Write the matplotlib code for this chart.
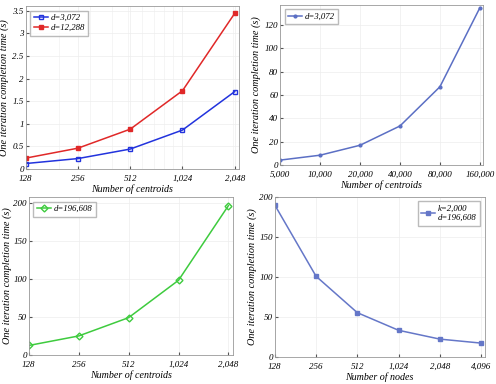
import numpy as np
import matplotlib
matplotlib.use("Agg")
import matplotlib.pyplot as plt
from matplotlib.ticker import FixedLocator, NullFormatter, LogLocator

plt.rcParams['font.family'] = ['Liberation Serif', 'DejaVu Serif']
plt.rcParams['font.style'] = 'italic'
plt.rcParams['font.size'] = 7

# top-left: time vs number of centroids, two dimensions
centroids_a = [128, 256, 512, 1024, 2048]
labels_a = ['128', '256', '512', '1,024', '2,048']
time_d3072 = [0.12, 0.23, 0.44, 0.86, 1.71]
time_d12288 = [0.24, 0.46, 0.88, 1.73, 3.44]

# top-right: large number of centroids
centroids_b = [5000, 10000, 20000, 40000, 80000, 160000]
labels_b = ['5,000', '10,000', '20,000', '40,000', '80,000', '160,000']
time_b = [4.3, 8.5, 17.0, 33.5, 67.0, 134.5]

# bottom-left: d=196,608
time_c = [12.5, 25.0, 49.0, 98.0, 196.0]

# bottom-right: number of nodes
nodes = [128, 256, 512, 1024, 2048, 4096]
labels_nodes = ['128', '256', '512', '1,024', '2,048', '4,096']
time_nodes = [190.0, 101.0, 55.5, 33.5, 22.5, 17.5]

ylab = 'One iteration completion time (s)'

fig = plt.figure(figsize=(4.96, 3.84), dpi=100)
ax1 = fig.add_axes([0.052, 0.56, 0.430, 0.424])
ax2 = fig.add_axes([0.565, 0.570, 0.408, 0.417])
ax3 = fig.add_axes([0.058, 0.0755, 0.411, 0.411])
ax4 = fig.add_axes([0.554, 0.070, 0.423, 0.417])


def style(ax, xs, labels, xmax, ylab_x):
    ax.set_xscale('log')
    ax.set_xlim(xs[0], xmax)
    ax.xaxis.set_major_locator(FixedLocator(xs))
    ax.set_xticklabels(labels)
    ax.xaxis.set_minor_formatter(NullFormatter())
    ax.tick_params(which='both', direction='in', length=2.5, color='#555555',
                   labelsize=6.5)
    ax.tick_params(axis='x', pad=4)
    ax.tick_params(axis='y', pad=1.5)
    ax.tick_params(which='minor', length=0)
    for s in ax.spines.values():
        s.set_color('#999999')
        s.set_linewidth(0.6)
    ax.set_ylabel(ylab, fontsize=7.4)
    ax.yaxis.set_label_coords(ylab_x, 0.5)
    ax.grid(True, which='major', color='#ededed', linewidth=0.5)


# top-left
style(ax1, centroids_a, labels_a, 2048 * 1.06, -0.077)
ax1.xaxis.set_minor_locator(LogLocator(base=10, subs=np.arange(2, 10)))
ax1.grid(True, which='minor', color='#f2f2f2', linewidth=0.5)
ax1.plot(centroids_a, time_d3072, color='#2233dd', marker='s', markersize=3.5,
         markerfacecolor='none', linewidth=1.1, label='d=3,072')
ax1.plot(centroids_a, time_d12288, color='#e02828', marker='s', markersize=3.5,
         linewidth=1.1, label='d=12,288')
ax1.set_ylim(0, 3.6)
ax1.set_yticks([0, 0.5, 1, 1.5, 2, 2.5, 3, 3.5])
ax1.set_yticklabels(['0', '0.5', '1', '1.5', '2', '2.5', '3', '3.5'])
ax1.set_xlabel('Number of centroids', fontsize=7.2, labelpad=1.5)
ax1.legend(loc='upper left', fontsize=6.3, handlelength=1.6, handletextpad=0.3,
           borderpad=0.4, labelspacing=0.2, fancybox=False, edgecolor='#aaaaaa')

# top-right
style(ax2, centroids_b, labels_b, 160000 * 1.05, -0.093)
ax2.plot(centroids_b, time_b, color='#5b6fc4', marker='o', markersize=2,
         linewidth=1.1, label='d=3,072')
ax2.set_ylim(0, 137)
ax2.set_yticks([0, 20, 40, 60, 80, 100, 120])
ax2.set_xlabel('Number of centroids', fontsize=7.2, labelpad=1.5)
ax2.legend(loc='upper left', fontsize=6.3, handlelength=1.6, handletextpad=0.3,
           borderpad=0.4, fancybox=False, edgecolor='#aaaaaa')

# bottom-left
style(ax3, centroids_a, labels_a, 2048 * 1.06, -0.083)
ax3.plot(centroids_a, time_c, color='#3ecb3e', marker='D', markersize=3.5,
         markerfacecolor='none', linewidth=1.1, label='d=196,608')
ax3.set_ylim(0, 207)
ax3.set_yticks([0, 50, 100, 150, 200])
ax3.set_xlabel('Number of centroids', fontsize=7.2, labelpad=1.5)
ax3.legend(loc='upper left', fontsize=6.3, handlelength=1.6, handletextpad=0.3,
           borderpad=0.4, fancybox=False, edgecolor='#aaaaaa')

# bottom-right
style(ax4, nodes, labels_nodes, 4096 * 1.06, -0.086)
ax4.plot(nodes, time_nodes, color='#6577c8', marker='s', markersize=3,
         linewidth=1.1, label='k=2,000\nd=196,608')
ax4.set_ylim(0, 200)
ax4.set_yticks([0, 50, 100, 150, 200])
ax4.set_xlabel('Number of nodes', fontsize=7.2, labelpad=1.5)
ax4.legend(loc='upper right', fontsize=6.3, handlelength=1.6, handletextpad=0.3,
           borderpad=0.4, fancybox=False, edgecolor='#aaaaaa')

fig.savefig('out.png', dpi=100)
